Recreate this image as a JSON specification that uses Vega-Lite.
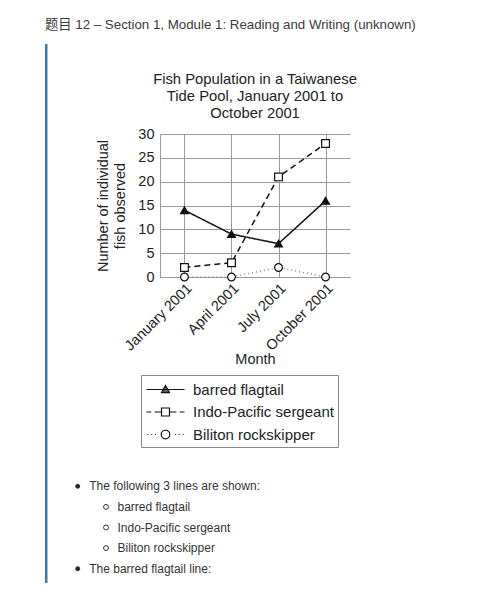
{
  "$schema": "https://vega.github.io/schema/vega-lite/v6.json",
  "padding": {"left": 45, "top": 17, "right": 5, "bottom": 5},
  "config": {"font": "Liberation Sans", "view": {"stroke": null}},
  "title": {
    "text": "题目 12 – Section 1, Module 1: Reading and Writing (unknown)",
    "anchor": "start",
    "font": "Liberation Sans, Noto Sans CJK SC",
    "fontSize": 13.3,
    "fontWeight": "normal",
    "color": "#3a3a3a",
    "offset": 13
  },
  "spacing": 25,
  "resolve": {
    "scale": {"strokeDash": "independent", "stroke": "independent", "fill": "independent", "shape": "independent", "opacity": "independent"},
    "legend": {"opacity": "independent"}
  },
  "hconcat": [
    {
      "width": 2.5,
      "height": 449,
      "data": {"values": [{"top": 1, "bottom": 0}]},
      "mark": {"type": "rect", "color": "#3a78b5"},
      "encoding": {
        "y": {"field": "top", "type": "quantitative", "scale": {"domain": [0, 1], "range": [449, -90]}, "axis": null},
        "y2": {"field": "bottom"}
      }
    },
    {
      "bounds": "flush",
      "spacing": 199,
      "resolve": {
        "scale": {"strokeDash": "independent", "stroke": "independent", "fill": "independent", "shape": "independent", "opacity": "independent"},
        "legend": {"opacity": "independent"}
      },
      "vconcat": [
        {
          "width": 190,
          "height": 143,
          "title": {
            "text": ["Fish Population in a Taiwanese", "Tide Pool, January 2001 to", "October 2001"],
            "font": "Liberation Sans",
            "fontSize": 14.8,
            "fontWeight": "normal",
            "color": "#222",
            "lineHeight": 17,
            "anchor": "middle",
            "frame": "group",
            "offset": 5
          },
          "data": {
            "values": [
              {"month": "January 2001", "species": "barred flagtail", "count": 14},
              {"month": "April 2001", "species": "barred flagtail", "count": 9},
              {"month": "July 2001", "species": "barred flagtail", "count": 7},
              {"month": "October 2001", "species": "barred flagtail", "count": 16},
              {"month": "January 2001", "species": "Indo-Pacific sergeant", "count": 2},
              {"month": "April 2001", "species": "Indo-Pacific sergeant", "count": 3},
              {"month": "July 2001", "species": "Indo-Pacific sergeant", "count": 21},
              {"month": "October 2001", "species": "Indo-Pacific sergeant", "count": 28},
              {"month": "January 2001", "species": "Biliton rockskipper", "count": 0},
              {"month": "April 2001", "species": "Biliton rockskipper", "count": 0},
              {"month": "July 2001", "species": "Biliton rockskipper", "count": 2},
              {"month": "October 2001", "species": "Biliton rockskipper", "count": 0}
            ]
          },
          "encoding": {
            "x": {
              "field": "month",
              "type": "ordinal",
              "sort": ["January 2001", "April 2001", "July 2001", "October 2001"],
              "scale": {"type": "point", "padding": 0.52},
              "title": "Month",
              "axis": {
                "labelAngle": -45,
                "grid": true,
                "gridColor": "#999",
                "domainColor": "#999",
                "ticks": false,
                "labelFontSize": 14.5,
                "labelColor": "#222",
                "labelPadding": 4,
                "titleFontSize": 14.5,
                "titleFontWeight": "normal",
                "titleColor": "#222",
                "titlePadding": 0
              }
            },
            "y": {
              "field": "count",
              "type": "quantitative",
              "scale": {"domain": [0, 30]},
              "axis": {
                "values": [0, 5, 10, 15, 20, 25, 30],
                "title": ["Number of individual", "fish observed"],
                "grid": true,
                "gridColor": "#999",
                "domainColor": "#999",
                "ticks": false,
                "labelPadding": 6,
                "labelFontSize": 14.5,
                "labelColor": "#222",
                "titleFontSize": 14.5,
                "titleFontWeight": "normal",
                "titleColor": "#222",
                "titleLineHeight": 17,
                "titlePadding": 10
              }
            }
          },
          "layer": [
            {
              "mark": {"type": "line", "strokeWidth": 1.5},
              "encoding": {
                "stroke": {
                  "field": "species",
                  "type": "nominal",
                  "scale": {"domain": ["Biliton rockskipper", "barred flagtail", "Indo-Pacific sergeant"], "range": ["#888", "#111", "#111"]},
                  "legend": null
                },
                "strokeDash": {
                  "field": "species",
                  "type": "nominal",
                  "scale": {"domain": ["Indo-Pacific sergeant", "Biliton rockskipper", "barred flagtail"], "range": [[6, 4], [1, 3], [1, 0]]},
                  "legend": null
                }
              }
            },
            {
              "mark": {"type": "point", "size": 60, "strokeWidth": 1.2, "filled": true},
              "encoding": {
                "shape": {
                  "field": "species",
                  "type": "nominal",
                  "scale": {"domain": ["Indo-Pacific sergeant", "Biliton rockskipper", "barred flagtail"], "range": ["square", "circle", "triangle-up"]},
                  "legend": null
                },
                "fill": {
                  "field": "species",
                  "type": "nominal",
                  "scale": {"domain": ["Indo-Pacific sergeant", "Biliton rockskipper", "barred flagtail"], "range": ["#fff", "#fff", "#111"]},
                  "legend": null
                },
                "stroke": {"value": "#111"},
                "opacity": {
                  "field": "species",
                  "type": "nominal",
                  "scale": {"domain": ["barred flagtail", "Indo-Pacific sergeant", "Biliton rockskipper"], "range": [1, 1, 1]},
                  "legend": {
                    "title": null,
                    "orient": "none",
                    "legendX": -19,
                    "legendY": 241,
                    "strokeColor": "#888",
                    "padding": 4,
                    "labelFont": "Liberation Sans",
                    "labelFontSize": 15,
                    "labelColor": "#222",
                    "symbolSize": 361,
                    "symbolStrokeWidth": 1.2,
                    "symbolOffset": 10,
                    "labelOffset": 17,
                    "rowPadding": 3.5,
                    "encoding": {
                      "symbols": {
                        "shape": {
                          "condition": [
                            {"test": "datum.value === 'barred flagtail'", "value": "M-2,0H2M0,-0.42L0.42,0.32L-0.42,0.32Z"},
                            {"test": "datum.value === 'Indo-Pacific sergeant'", "value": "M-2,0H-1.5M-1.15,0H-0.42M0.42,0H1.15M1.5,0H2M-0.42,-0.42H0.42V0.42H-0.42Z"}
                          ],
                          "value": "M-1.9,0H-1.8M-1.5,0H-1.4M-1.1,0H-1M1,0H1.1M1.4,0H1.5M1.8,0H1.9M0.45,0A0.45,0.45,0,1,1,-0.45,0A0.45,0.45,0,1,1,0.45,0Z"
                        },
                        "fill": {
                          "condition": {"test": "datum.value === 'barred flagtail'", "value": "#111"},
                          "value": "#fff"
                        },
                        "stroke": {"value": "#111"}
                      }
                    }
                  }
                }
              }
            }
          ]
        },
        {
          "width": 250,
          "height": 103,
          "data": {
            "values": [
              {"line": 1, "level": 1, "text": "The following 3 lines are shown:"},
              {"line": 2, "level": 2, "text": "barred flagtail"},
              {"line": 3, "level": 2, "text": "Indo-Pacific sergeant"},
              {"line": 4, "level": 2, "text": "Biliton rockskipper"},
              {"line": 5, "level": 1, "text": "The barred flagtail line:"}
            ]
          },
          "encoding": {
            "x": {"field": "level", "type": "quantitative", "scale": {"domain": [1, 2], "range": [-82.3, -54]}, "axis": null},
            "y": {"field": "line", "type": "ordinal", "scale": {"type": "point", "padding": 0.5}, "axis": null}
          },
          "layer": [
            {
              "mark": {"type": "point", "shape": "circle", "strokeWidth": 1, "opacity": 1, "filled": true},
              "encoding": {
                "fill": {"condition": {"test": "datum.level === 1", "value": "#222"}, "value": "#fff"},
                "size": {"condition": {"test": "datum.level === 1", "value": 16}, "value": 24},
                "stroke": {"value": "#333"}
              }
            },
            {
              "mark": {"type": "text", "align": "left", "baseline": "middle", "dx": 11.5, "fontSize": 12, "color": "#333"},
              "encoding": {"text": {"field": "text"}}
            }
          ]
        }
      ]
    }
  ]
}
